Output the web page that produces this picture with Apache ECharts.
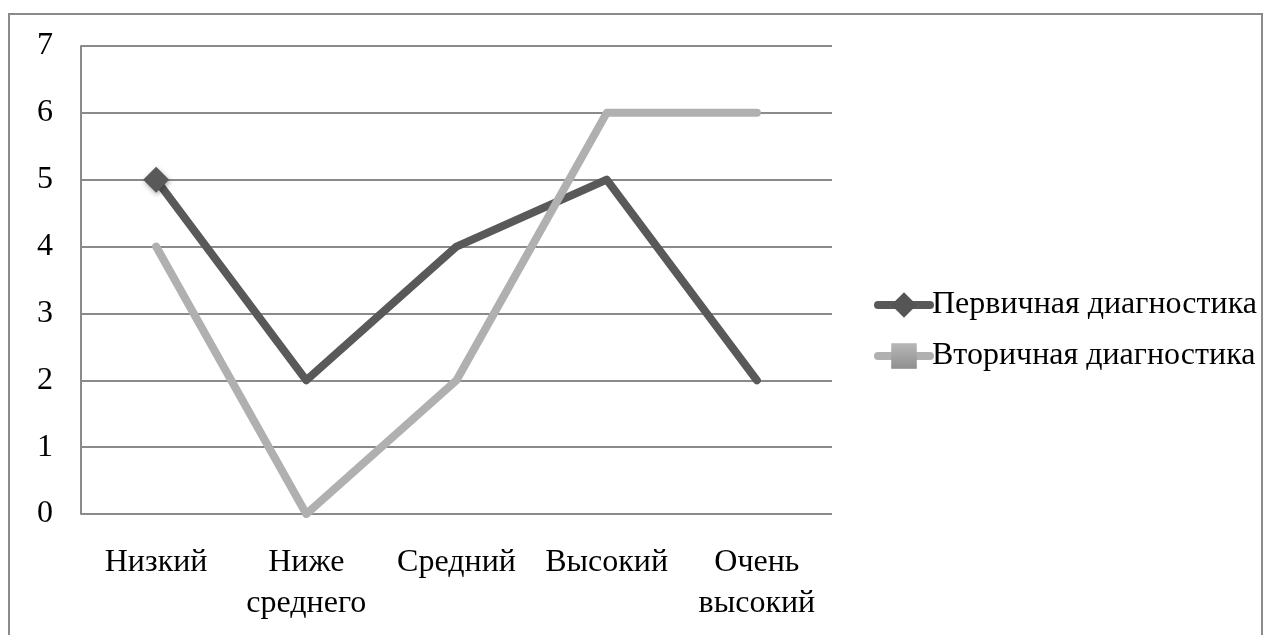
<!DOCTYPE html>
<html>
<head>
<meta charset="utf-8">
<script src="https://cdn.jsdelivr.net/npm/echarts@6/dist/echarts.min.js"></script>
<style>html,body{margin:0;padding:0;background:#fff;}#c{width:1273px;height:635px;}</style>
</head>
<body>
<div id="c"></div>
<script>
const categories = ['Низкий', 'Ниже\nсреднего', 'Средний', 'Высокий', 'Очень\nвысокий'];
const seriesNames = ['Первичная диагностика', 'Вторичная диагностика'];
const primary = [5, 2, 4, 5, 2];
const secondary = [4, 0, 2, 6, 6];
const yTicks = [0, 1, 2, 3, 4, 5, 6, 7];

const font = 'Liberation Serif, Times New Roman, serif';
const chart = echarts.init(document.getElementById('c'));

function withMarkerOnFirst(arr) {
  return arr.map((v, i) => i === 0 ? { value: v } : { value: v, symbol: 'none' });
}
function noMarkers(arr) {
  return arr.map(v => ({ value: v, symbol: 'none' }));
}

chart.setOption({
  animation: false,
  backgroundColor: '#fff',
  graphic: [{
    type: 'rect',
    shape: { x: 9, y: 14, width: 1253, height: 640 },
    style: { fill: 'none', stroke: '#8a8a8a', lineWidth: 2 },
    silent: true
  }],
  grid: { left: 81, right: 441, top: 46, bottom: 121, containLabel: false },
  legend: {
    orient: 'vertical',
    left: 869,
    top: 284,
    itemWidth: 52,
    itemHeight: 32,
    itemGap: 19,
    lineStyle: { width: 8, cap: 'round' },
    textStyle: { fontFamily: font, fontSize: 32, color: '#000', padding: [0, 0, 0, -3] },
    data: [
      { name: seriesNames[0], itemStyle: { color: '#555555' } },
      { name: seriesNames[1], itemStyle: { color: {
        type: 'linear', x: 0, y: 0, x2: 0, y2: 1,
        colorStops: [{ offset: 0, color: '#b8b8b8' }, { offset: 1, color: '#8f8f8f' }]
      } } }
    ]
  },
  xAxis: {
    type: 'category',
    data: categories,
    boundaryGap: true,
    axisLine: { show: false },
    axisTick: { show: false },
    axisLabel: { fontFamily: font, fontSize: 32, color: '#000', margin: 28, lineHeight: 41, interval: 0 }
  },
  yAxis: {
    type: 'value',
    min: yTicks[0],
    max: yTicks[yTicks.length - 1],
    interval: 1,
    axisLine: { show: true, lineStyle: { color: '#8a8a8a', width: 2 } },
    axisTick: { show: false },
    axisLabel: { fontFamily: font, fontSize: 32, color: '#000', margin: 28 },
    splitLine: { show: true, lineStyle: { color: '#8a8a8a', width: 2 } }
  },
  series: [
    {
      name: seriesNames[0],
      type: 'line',
      data: withMarkerOnFirst(primary),
      symbol: 'diamond',
      symbolSize: 26,
      lineStyle: { color: '#595959', width: 8, cap: 'round', join: 'round' },
      itemStyle: { color: '#595959', shadowColor: 'rgba(0,0,0,0.35)', shadowBlur: 5, shadowOffsetX: 1, shadowOffsetY: 2 },
      z: 2
    },
    {
      name: seriesNames[1],
      type: 'line',
      data: noMarkers(secondary),
      symbol: 'rect',
      symbolSize: 18,
      lineStyle: { color: '#b0b0b0', width: 8, cap: 'round', join: 'round' },
      itemStyle: { color: '#a0a0a0' },
      z: 3
    }
  ]
});
</script>
</body>
</html>
